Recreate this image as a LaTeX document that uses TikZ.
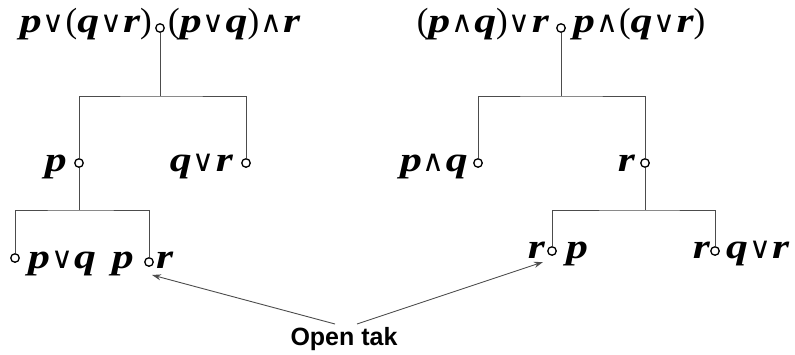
\documentclass[tikz,border=0pt]{standalone}
\usepackage{fontspec}
\setmainfont{Liberation Serif}
\setsansfont{Liberation Sans}
\newfontfamily\widef[FakeStretch=1.25]{Liberation Serif}
\newfontfamily\symf{DejaVu Sans}
\usetikzlibrary{arrows.meta}
\newcommand\bi[1]{{\widef\bfseries\itshape #1}}
\newcommand\OR{\kern1pt{\symf\fontsize{30}{30}\selectfont ∨}\kern1pt}
\newcommand\AND{\kern1pt{\symf\fontsize{30}{30}\selectfont ∧}\kern1pt}
\begin{document}
\begin{tikzpicture}[x=1pt,y=-1pt,
  dot/.style={circle,draw,line width=1.3pt,minimum size=8.5pt,inner sep=0pt},
  lt/.style={anchor=base east,inner sep=0pt,font=\fontsize{35}{40}\selectfont},
  rt/.style={anchor=base west,inner sep=0pt,font=\fontsize{35}{40}\selectfont},
  edge/.style={draw=black!70,line width=0.9pt},
  arr/.style={draw=black!70,line width=0.9pt,-{Stealth[length=9pt,width=6pt]}},
  lbl/.style={font=\sffamily\bfseries\fontsize{25}{29}\selectfont,anchor=base,inner sep=0pt}]
\useasboundingbox (0,0) rectangle (795,354);
% left tree
\node[dot] (c0) at (160,28) {};
\node[lt] (t0l) at ([xshift=-8pt,yshift=-4pt]c0.center) {\bi{p}\OR(\bi{q}\OR\bi{r})};
\node[rt] (t0r) at ([xshift=8pt,yshift=-4pt]c0.center) {(\bi{p}\OR\bi{q})\AND\bi{r}};
\node[dot] (c1) at (79,163) {};
\node[lt] (t1) at ([xshift=-12pt,yshift=-8pt]c1.center) {\bi{p}};
\node[dot] (c2) at (246,163) {};
\node[lt] (t2) at ([xshift=-13pt,yshift=-8pt]c2.center) {\bi{q}\OR\bi{r}};
\coordinate (j0) at (160,96);
\draw[edge] (c0) -- (j0);
\draw[edge] (c1) |- (j0) -| (c2);
\node[dot] (c3) at (15,258) {};
\node[rt] (t3) at ([xshift=13pt,yshift=-10pt]c3.center) {\bi{p}\OR\bi{q}};
\node[dot] (c4) at (149,262) {};
\node[lt] (t4l) at ([xshift=-15pt,yshift=-6pt]c4.center) {\bi{p}};
\node[rt] (t4r) at ([xshift=7pt,yshift=-6pt]c4.center) {\bi{r}};
\coordinate (j1) at (79,210);
\draw[edge] (c1) -- (j1);
\draw[edge] (c3) |- (j1) -| (c4);
% right tree
\node[dot] (c5) at (561,28) {};
\node[lt] (t5l) at ([xshift=-12pt,yshift=-4pt]c5.center) {(\bi{p}\AND\bi{q})\OR\bi{r}};
\node[rt] (t5r) at ([xshift=12pt,yshift=-4pt]c5.center) {\bi{p}\AND(\bi{q}\OR\bi{r})};
\node[dot] (c6) at (478,163) {};
\node[lt] (t6) at ([xshift=-10pt,yshift=-8pt]c6.center) {\bi{p}\AND\bi{q}};
\node[dot] (c7) at (645,163) {};
\node[lt] (t7) at ([xshift=-10pt,yshift=-8pt]c7.center) {\bi{r}};
\coordinate (j2) at (561,96);
\draw[edge] (c5) -- (j2);
\draw[edge] (c6) |- (j2) -| (c7);
\node[dot] (c8) at (552,251) {};
\node[lt] (t8l) at ([xshift=-7pt,yshift=-7pt]c8.center) {\bi{r}};
\node[rt] (t8r) at ([xshift=14pt,yshift=-7pt]c8.center) {\bi{p}};
\node[dot] (c9) at (715,251) {};
\node[lt] (t9l) at ([xshift=-5pt,yshift=-7pt]c9.center) {\bi{r}};
\node[rt] (t9r) at ([xshift=11pt,yshift=-7pt]c9.center) {\bi{q}\OR\bi{r}};
\coordinate (j3) at (645,210);
\draw[edge] (c7) -- (j3);
\draw[edge] (c8) |- (j3) -| (c9);
% open tak
\node[lbl] (ot) at (344,345) {Open tak};
\coordinate (a1s) at (335,324);
\coordinate (a1e) at (152,275);
\coordinate (a2s) at (357,324);
\coordinate (a2e) at (543,262);
\draw[arr] (a1s) -- (a1e);
\draw[arr] (a2s) -- (a2e);
\end{tikzpicture}
\end{document}
